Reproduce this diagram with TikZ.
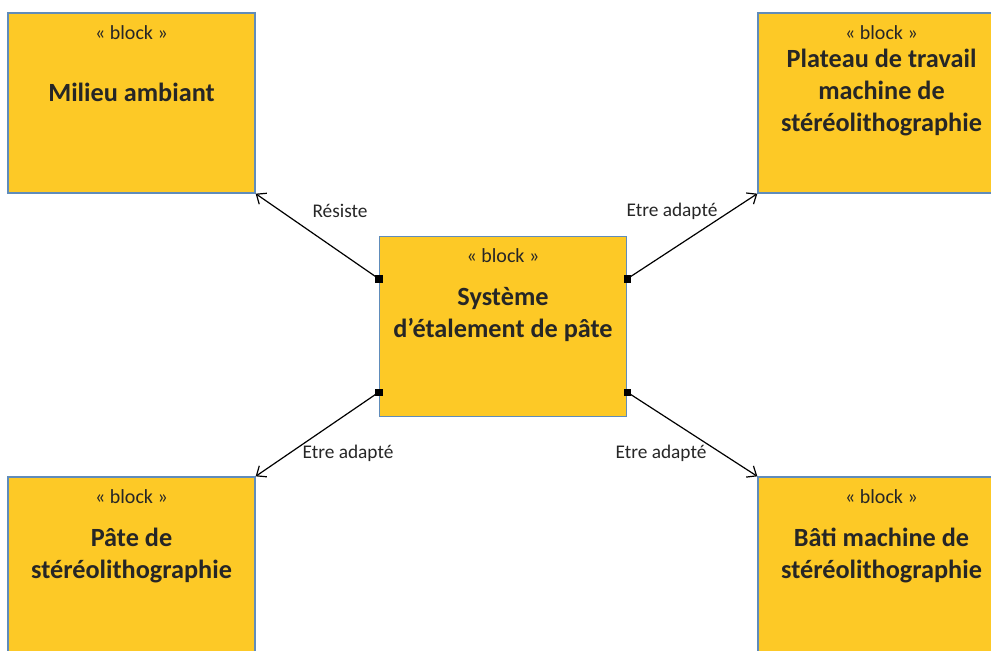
\documentclass[tikz,border=0pt]{standalone}
\usepackage{fontspec}
\setmainfont{Carlito}
\usepackage{xcolor}
\definecolor{jaune}{RGB}{253,201,38}
\definecolor{bordure}{RGB}{96,140,186}
\definecolor{texte}{RGB}{38,38,38}
\usepackage{tikz}
\usetikzlibrary{arrows.meta,calc,positioning}

\begin{document}
\begin{tikzpicture}[x=0.75pt,y=-0.75pt,
    bloc/.style={draw=bordure,fill=jaune,line width=1pt,minimum width=185.25pt,minimum height=135pt,inner sep=0pt},
    stereo/.style={texte,font=\fontsize{15}{18}\selectfont},
    titre/.style={texte,align=center,font=\fontsize{19.7}{24}\selectfont\bfseries},
    etiquette/.style={texte,font=\fontsize{14.5}{17}\selectfont},
    port/.style={fill=black,inner sep=0pt,minimum size=5.5pt},
    lien/.style={-{Straight Barb[length=6pt,width=10pt]},line width=0.9pt}]
    \useasboundingbox (0,0) rectangle (991,650);
    \clip (0,0) rectangle (991,650);
    % blocs
    \node[bloc] (milieu) at (131.5,103) {};
    \node[bloc] (plateau) at (881.5,103) {};
    \node[bloc] (systeme) at (503,326.5) {};
    \node[bloc] (pate) at (131.5,567) {};
    \node[bloc] (bati) at (881.5,567) {};
    \foreach \b in {milieu,plateau,systeme,pate,bati}{
      \node[stereo] (\b-st) at ($(\b.north)+(0,20)$) {« block »};
    }
    \node[titre] (milieu-t) at ($(milieu.north)+(0,80)$) {Milieu ambiant};
    \node[titre] (plateau-t) at ($(plateau.north)+(0,80)$) {Plateau de travail\\machine de\\stéréolithographie};
    \node[titre] (systeme-t) at ($(systeme.north)+(0,79)$) {Système\\d’étalement de pâte};
    \node[titre] (pate-t) at ($(pate.north)+(0,79)$) {Pâte de\\stéréolithographie};
    \node[titre] (bati-t) at ($(bati.north)+(0,79)$) {Bâti machine de\\stéréolithographie};
    % ports
    \node[port] (p1) at ($(systeme.north west)+(0,43)$) {};
    \node[port] (p2) at ($(systeme.north east)+(0,43)$) {};
    \node[port] (p3) at ($(systeme.south west)+(0,-25)$) {};
    \node[port] (p4) at ($(systeme.south east)+(0,-25)$) {};
    % liens
    \draw[lien] (p1.center) -- (milieu.south east);
    \draw[lien] (p2.center) -- (plateau.south west);
    \draw[lien] (p3.center) -- (pate.north east);
    \draw[lien] (p4.center) -- (bati.north west);
    \node[etiquette] (e1) at (340,211) {Résiste};
    \node[etiquette] (e2) at (672,211) {Etre adapté};
    \node[etiquette] (e3) at (348,453) {Etre adapté};
    \node[etiquette] (e4) at (661,453) {Etre adapté};
\end{tikzpicture}
\end{document}
